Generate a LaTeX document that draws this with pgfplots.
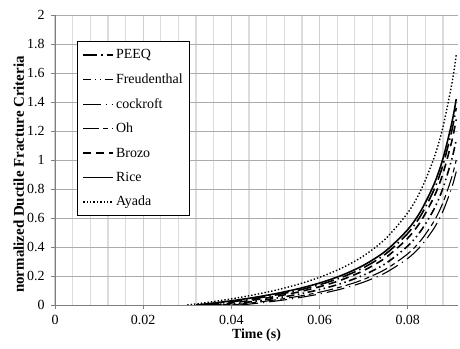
\documentclass[border=0pt]{standalone}
\usepackage{fontspec}
\setmainfont{Liberation Serif}
\usepackage{pgfplots}
\pgfplotsset{compat=1.18}
\definecolor{vgrid}{HTML}{DCDCDC}
\definecolor{vgridmaj}{HTML}{CFCFCF}
\definecolor{hgrid}{HTML}{ABABAB}
\definecolor{axgray}{HTML}{7F7F7F}
\begin{document}
\begin{tikzpicture}
\begin{axis}[
  at={(55bp,44bp)}, anchor=south west,
  scale only axis, width=403bp, height=290bp,
  xmin=0, xmax=0.0914, ymin=0, ymax=2,
  axis x line*=bottom, axis y line*=left,
  axis line style={-, axgray, line width=0.8pt},
  scaled x ticks=false, scaled y ticks=false,
  xtick={0,0.02,0.04,0.06,0.08},
  xticklabels={0,0.02,0.04,0.06,0.08},
  minor xtick={0.004,0.008,0.012,0.016,0.024,0.028,0.032,0.036,0.044,0.048,0.052,0.056,0.064,0.068,0.072,0.076,0.084,0.088},
  ytick={0,0.2,...,2.01},
  yticklabels={0,0.2,0.4,0.6,0.8,1,1.2,1.4,1.6,1.8,2},
  tick align=outside, major tick length=4bp, minor tick length=0pt,
  tick style={axgray, line width=0.6pt},
  xmajorgrids, xminorgrids, ymajorgrids,
  major x grid style={vgridmaj, line width=1.3pt},
  minor x grid style={vgrid, line width=1.3pt},
  y grid style={hgrid, line width=0.8pt},
  /pgf/number format/assume math mode=true,
  ticklabel style={font=\fontsize{14}{16}\selectfont},
  xticklabel style={yshift=-3bp},
  yticklabel style={xshift=-3bp},
  xlabel={\textbf{Time (s)}},
  ylabel={\textbf{normalized Ductile Fracture Criteria}},
  xlabel style={font=\fontsize{14}{16}\selectfont, at={(axis description cs:0.5,-0.105)}, anchor=center},
  ylabel style={font=\fontsize{15}{17}\selectfont, at={(axis description cs:-0.09,0.45)}, anchor=center},
  legend style={at={(0.0546,0.910)}, anchor=north west, draw=black, line width=1pt, fill=white,
    font=\fontsize{14}{16}\selectfont, row sep=9.5bp, inner xsep=5bp, inner ysep=6bp},
  legend cell align=left,
  legend image code/.code={\draw[#1] (0bp,0bp) -- (30bp,0bp);},
  every axis plot/.append style={black, smooth},
]
% PEEQ
\addplot[line width=1.6pt, dash pattern=on 14bp off 4bp on 1.5bp off 4bp] coordinates {
(0.034,0) (0.04,0.0215) (0.045,0.0429) (0.05,0.0687) (0.055,0.1002) (0.06,0.1396) (0.065,0.1902) (0.07,0.2577) (0.075,0.3522) (0.08,0.4939) (0.083,0.6190) (0.086,0.7976) (0.088,0.9663) (0.09,1.2026) (0.091,1.36)};
\addlegendentry{PEEQ}
% Freudenthal
\addplot[line width=1.6pt, dash pattern=on 8bp off 3.5bp on 1.5bp off 3.5bp on 1.5bp off 3.5bp] coordinates {
(0.038,0) (0.04,0.0065) (0.045,0.0246) (0.05,0.0465) (0.055,0.0731) (0.06,0.1065) (0.065,0.1493) (0.07,0.2065) (0.075,0.2865) (0.08,0.4065) (0.083,0.5124) (0.086,0.6637) (0.088,0.8066) (0.09,1.0066) (0.091,1.14)};
\addlegendentry{Freudenthal}
% cockroft
\addplot[line width=1.1pt, dash pattern=on 18bp off 5bp on 1.2bp off 5bp] coordinates {
(0.042,0) (0.045,0.0092) (0.05,0.0270) (0.055,0.0488) (0.06,0.0760) (0.065,0.1110) (0.07,0.1577) (0.075,0.2230) (0.08,0.3210) (0.083,0.4075) (0.086,0.5310) (0.088,0.6477) (0.09,0.8110) (0.091,0.92)};
\addlegendentry{cockroft}
% Oh
\addplot[line width=1.1pt, dash pattern=on 16bp off 4bp on 5bp off 4bp] coordinates {
(0.04,0) (0.045,0.0160) (0.05,0.0353) (0.055,0.0588) (0.06,0.0882) (0.065,0.1260) (0.07,0.1765) (0.075,0.2471) (0.08,0.3529) (0.083,0.4464) (0.086,0.5798) (0.088,0.7059) (0.09,0.8823) (0.091,1.0)};
\addlegendentry{Oh}
% Brozo
\addplot[line width=1.6pt, dash pattern=on 8bp off 5bp] coordinates {
(0.036,0) (0.04,0.0140) (0.045,0.0343) (0.05,0.0586) (0.055,0.0884) (0.06,0.1257) (0.065,0.1735) (0.07,0.2374) (0.075,0.3267) (0.08,0.4608) (0.083,0.5791) (0.086,0.7481) (0.088,0.9076) (0.09,1.1311) (0.091,1.28)};
\addlegendentry{Brozo}
% Rice
\addplot[line width=1.6pt] coordinates {
(0.032,0) (0.035,0.0100) (0.04,0.0289) (0.045,0.0512) (0.05,0.0780) (0.055,0.1107) (0.06,0.1516) (0.065,0.2042) (0.07,0.2744) (0.075,0.3726) (0.08,0.5199) (0.083,0.6499) (0.086,0.8355) (0.088,1.0109) (0.09,1.2564) (0.091,1.42)};
\addlegendentry{Rice}
% Ayada
\addplot[line width=1.4pt, dash pattern=on 1.4bp off 2bp] coordinates {
(0.03,0) (0.035,0.0196) (0.04,0.0424) (0.045,0.0693) (0.05,0.1017) (0.055,0.1413) (0.06,0.1907) (0.065,0.2543) (0.07,0.3390) (0.075,0.4577) (0.08,0.6357) (0.083,0.7928) (0.086,1.0171) (0.088,1.2290) (0.09,1.5257) (0.091,1.7235)};
\addlegendentry{Ayada}
\end{axis}
\pgfresetboundingbox
\path[use as bounding box] (0,0) rectangle (460bp,349bp);
\end{tikzpicture}
\end{document}
